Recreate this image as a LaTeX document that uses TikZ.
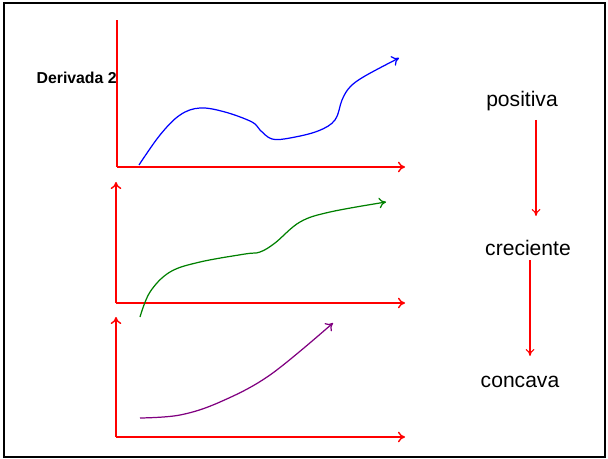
\documentclass[tikz,border=0pt]{standalone}
\usepackage{fontspec}
\setmainfont{Liberation Sans}
\usetikzlibrary{arrows.meta}
\definecolor{EjeRojo}{HTML}{FF0000}
\definecolor{CurvaAzul}{HTML}{0000FF}
\definecolor{CurvaVerde}{HTML}{008000}
\definecolor{CurvaMorada}{HTML}{800080}
\tikzset{
  eje/.style={draw=EjeRojo,line width=0.8pt},
  ejeflecha/.style={eje,-{To[length=4pt,width=6pt]}},
  curva/.style={line width=0.7pt,-{To[length=4pt,width=6pt]}},
  etiqueta/.style={font=\fontsize{12}{14}\selectfont,inner sep=0pt},
  titulo/.style={font=\fontsize{9}{11}\selectfont\bfseries,inner sep=0pt},
  flecha/.style={draw=EjeRojo,line width=0.6pt,-{To[length=4pt,width=5pt]}},
}
\begin{document}
\begin{tikzpicture}[x=0.02cm,y=-0.02cm]
  \useasboundingbox (0,0) rectangle (608,459);
  \draw[line width=1.3pt] (4,3) rectangle (605,457);
  % ejes
  \coordinate (o1) at (117,167); \coordinate (y1) at (117,20);  \coordinate (x1) at (405,167);
  \coordinate (o2) at (116,303); \coordinate (y2) at (116,182); \coordinate (x2) at (405,303);
  \coordinate (o3) at (116,437); \coordinate (y3) at (116,317); \coordinate (x3) at (405,437);
  \draw[eje] (o1) -- (y1);
  \draw[ejeflecha] (o1) -- (x1);
  \draw[ejeflecha] (o2) -- (y2);
  \draw[ejeflecha] (o2) -- (x2);
  \draw[ejeflecha] (o3) -- (y3);
  \draw[ejeflecha] (o3) -- (x3);
  % curvas
  \draw[curva,CurvaAzul] plot[smooth,tension=0.6] coordinates {(139,165) (160,135) (180,115) (200,108) (225,112) (252,122) (260,130) (272,139) (290,138) (318,131) (335,120) (342,100) (350,87) (365,76) (399,58)};
  \draw[curva,CurvaVerde] plot[smooth,tension=0.6] coordinates {(140,317) (150,292) (170,272) (200,262) (245,254) (260,252) (275,243) (300,222) (330,212) (386,202)};
  \draw[curva,CurvaMorada] plot[smooth,tension=0.6] coordinates {(140,418) (180,415) (220,402) (270,375) (333,323)};
  \node[titulo,anchor=east] (deriv) at (117,78) {Derivada 2};
  % columna derecha
  \node[etiqueta] (pos) at (522,101) {positiva};
  \node[etiqueta] (cre) at (528,248) {creciente};
  \node[etiqueta] (con) at (520,382) {concava};
  \coordinate (f1a) at (536,120); \coordinate (f1b) at (536,216);
  \coordinate (f2a) at (530,260); \coordinate (f2b) at (530,356);
  \draw[flecha] (f1a) -- (f1b);
  \draw[flecha] (f2a) -- (f2b);
\end{tikzpicture}
\end{document}
